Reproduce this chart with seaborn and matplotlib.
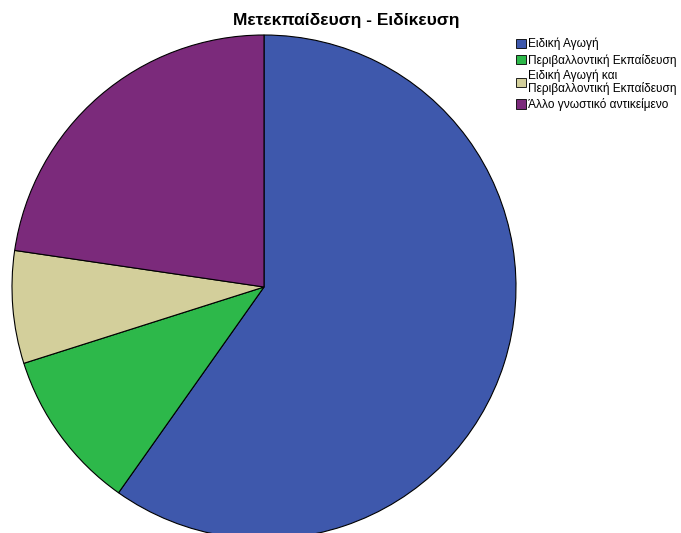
import matplotlib
matplotlib.use("Agg")
import matplotlib.pyplot as plt
import seaborn as sns

sns.set_theme(style="white")
plt.rcParams['font.family'] = ['Liberation Sans', 'DejaVu Sans']
plt.rcParams['text.color'] = 'black'

categories = [
    "Ειδική Αγωγή",
    "Περιβαλλοντική Εκπαίδευση",
    "Ειδική Αγωγή και\nΠεριβαλλοντική Εκπαίδευση",
    "Άλλο γνωστικό αντικείμενο",
]
counts = [58, 10, 7, 22]
colors = ["#3e58ac", "#2db84a", "#d3cf9b", "#7b2a7b"]

W, H = 681, 533
fig = plt.figure(figsize=(W / 100, H / 100), dpi=100)

cx, cy, r = 264, 287, 252
ax = fig.add_axes([(cx - r) / W, (H - cy - r) / H, 2 * r / W, 2 * r / H])
wedges, _ = ax.pie(
    counts,
    colors=colors,
    startangle=90,
    counterclock=False,
    radius=1.0,
    wedgeprops=dict(edgecolor="black", linewidth=0.8),
)
ax.set_xlim(-1, 1)
ax.set_ylim(-1, 1)
ax.set_aspect("equal")
ax.axis("off")

fig.text(346 / W, 1 - 20 / H, "Μετεκπαίδευση - Ειδίκευση",
         ha="center", va="center", fontsize=12.5, fontweight="bold",
         color="black")

leg = fig.legend(
    wedges, categories,
    loc="upper left",
    bbox_to_anchor=(516 / W, 1 - 38 / H),
    frameon=False,
    fontsize=8.6,
    handlelength=0.8,
    handleheight=0.8,
    handletextpad=0.2,
    labelspacing=0.27,
    borderaxespad=0,
    borderpad=0,
)
for h in leg.legend_handles:
    h.set_edgecolor("black")
    h.set_linewidth(0.6)
for t in leg.get_texts():
    t.set_linespacing(0.95)

fig.savefig("out.png", dpi=100)
